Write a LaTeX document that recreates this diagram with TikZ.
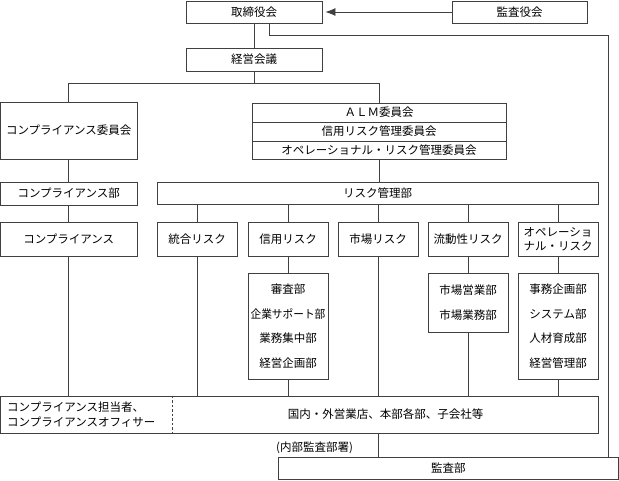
\documentclass[tikz,border=0pt]{standalone}
\usepackage{fontspec}
\newfontfamily\jp{Noto Sans CJK JP}
\usetikzlibrary{arrows.meta,calc}
\newcommand\mkbox[6]{\node[box,minimum width={(#4-#2)*1pt},minimum height={(#5-#3)*1pt}] (#1) at ({(#2+#4)/2},{(#3+#5)/2}) {#6};}
\begin{document}
\begin{tikzpicture}[x=1pt,y=-1pt,
  box/.style={draw=black!75,line width=0.8pt,inner sep=0pt,align=center,font=\jp\fontsize{11.5}{14}\selectfont,text=black},
  conn/.style={draw=black!75,line width=0.8pt},
  lbl/.style={inner sep=0pt,font=\jp\fontsize{11.5}{15}\selectfont,text=black},
  widelbl/.style={lbl,align=center,font=\jp\fontsize{11.5}{24.5}\selectfont}]
\useasboundingbox (0,0) rectangle (619,480);
% top row
\mkbox{board}{186}{1}{322}{23}{取締役会}
\mkbox{kansayaku}{452}{1}{587}{23}{監査役会}
\mkbox{keiei}{186}{48}{322}{71}{経営会議}
% committees
\mkbox{compI}{0.5}{102}{137}{159}{コンプライアンス委員会}
\mkbox{almA}{252}{103}{506}{122}{ＡＬＭ委員会}
\mkbox{almB}{252}{122}{506}{141}{信用リスク管理委員会}
\mkbox{almC}{252}{141}{506}{159}{オペレーショナル・リスク管理委員会}
% departments
\mkbox{compBu}{0.5}{182}{137}{205}{コンプライアンス部}
\mkbox{riskBu}{157}{182}{598}{204}{リスク管理部}
% risks
\mkbox{comp}{0.5}{222}{137}{256}{コンプライアンス}
\mkbox{togo}{157}{222}{237}{256}{統合リスク}
\mkbox{shinyo}{248}{222}{328}{256}{信用リスク}
\mkbox{shijo}{338}{222}{418}{256}{市場リスク}
\mkbox{ryudo}{428}{222}{508}{256}{流動性リスク}
\mkbox{ope}{518}{222}{598}{256}{オペレーショ\\ナル・リスク}
% sub departments
\mkbox{shinsa}{248}{273}{328}{379}{}
\mkbox{ichiba}{428}{273}{508}{332}{}
\mkbox{jimu}{518}{273}{598}{379}{}
\node[widelbl] (shinsaT) at (shinsa) {審査部\\\scalebox{0.93}[1]{企業サポート部}\\業務集中部\\経営企画部};
\node[widelbl] (ichibaT) at (ichiba) {市場営業部\\市場業務部};
\node[widelbl] (jimuT) at (jimu) {事務企画部\\システム部\\人材育成部\\経営管理部};
% bottom
\mkbox{kokunai}{0.5}{396}{598}{433}{}
\draw[conn,dash pattern=on 2.5pt off 2pt] ($(kokunai.north west)+(172.5,0)$) coordinate (dA) -- (dA |- kokunai.south);
\node[lbl,anchor=west,align=left] (tanto) at (7,414.5) {コンプライアンス担当者、\\コンプライアンスオフィサー};
\node[lbl] (kokunaiT) at (385.5,414.5) {国内・外営業店、本部各部、子会社等};
\mkbox{kansabu}{278}{457}{618.5}{479}{監査部}
\node[lbl,anchor=west] (naibu) at (276,447.5) {(内部監査部署)};
% connectors
\draw[conn,-{Latex[length=10pt,width=8pt]},shorten >=3pt] (kansayaku.west) -- (board.east);
\draw[conn] (board.south) -- (keiei.north);
\draw[conn] (keiei.south) -- ++(0,12) coordinate (j1);
\draw[conn] (compI.north) |- (j1) -| (almA.north);
\draw[conn] (compI.south) -- (compBu.north);
\draw[conn] (compBu.south) -- (comp.north);
\draw[conn] (comp.south) -- (comp.south |- kokunai.north);
\draw[conn] (almC.south) -- (almC.south |- riskBu.north);
\foreach \n in {togo,shinyo,shijo,ryudo,ope}
  \draw[conn] (\n.north) -- (\n.north |- riskBu.south);
\draw[conn] (togo.south) -- (togo.south |- kokunai.north);
\draw[conn] (shinyo.south) -- (shinsa.north);
\draw[conn] (shinsa.south) -- (shinsa.south |- kokunai.north);
\draw[conn] (shijo.south) -- (shijo.south |- kokunai.north);
\draw[conn] (ryudo.south) -- (ichiba.north);
\draw[conn] (ichiba.south) -- (ichiba.south |- kokunai.north);
\draw[conn] (ope.south) -- (jimu.north);
\draw[conn] (jimu.south) -- (jimu.south |- kokunai.north);
\draw[conn] (kokunai.south -| shijo.south) -- (kansabu.north -| shijo.south);
\coordinate (rl) at (608,35);
\draw[conn] ($(board.south)+(15,0)$) |- (rl) -- (rl |- kansabu.north);
\end{tikzpicture}
\end{document}
